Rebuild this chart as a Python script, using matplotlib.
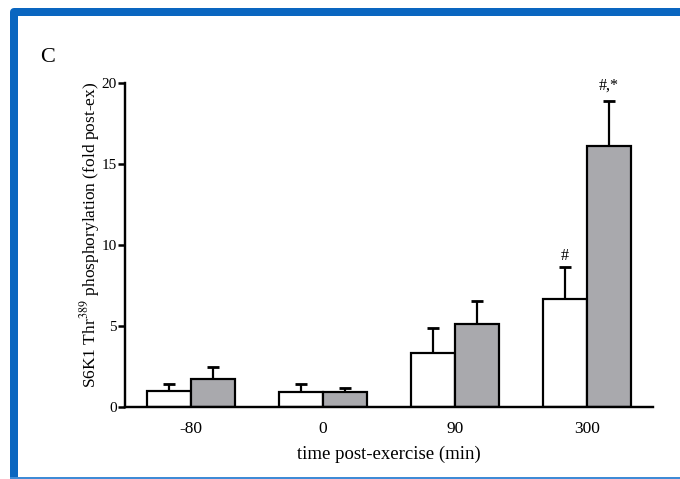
import matplotlib
matplotlib.use("Agg")
import matplotlib.pyplot as plt
from matplotlib.patches import Rectangle
import numpy as np

# Time points after exercise (min)
time_labels = ["-80", "0", "90", "300"]

# S6K1 Thr389 phosphorylation, fold of post-exercise value
white_means = [1.0, 0.95, 3.35, 6.65]
white_sem = [0.4, 0.45, 1.55, 2.0]
grey_means = [1.75, 0.95, 5.15, 16.1]
grey_sem = [0.7, 0.25, 1.4, 2.8]

# Significance marks above each bar
white_marks = ["", "", "", "#"]
grey_marks = ["", "", "", "#,*"]

plt.rcParams["font.family"] = ["Liberation Serif", "DejaVu Serif"]
plt.rcParams["mathtext.fontset"] = "stix"

W, H, DPI = 680, 479, 100
fig = plt.figure(figsize=(W / DPI, H / DPI), dpi=DPI)

# blue panel frame (open at the right edge of the figure)
frame = Rectangle((14 / W, -2 / H), 700 / W, (H - 11.5 + 2) / H,
                  transform=fig.transFigure, fill=False,
                  edgecolor="#0a66c0", linewidth=8 * 72 / DPI,
                  joinstyle="round", zorder=0)
fig.patches.append(frame)
bottom_edge = Rectangle((10 / W, 0), 1.0, 2.5 / H, transform=fig.transFigure,
                        facecolor="#3f8bd6", edgecolor="none", zorder=0)
fig.patches.append(bottom_edge)

ax = fig.add_axes([125 / W, 1 - 407 / H, (653 - 125) / W, (407 - 83) / H])

x = np.arange(len(time_labels))
bw = 0.336
edge_lw = 2.2 * 72 / DPI

ax.bar(x - bw / 2, white_means, bw, color="white", edgecolor="black",
       linewidth=edge_lw, zorder=2)
ax.bar(x + bw / 2, grey_means, bw, color="#a9a9ad", edgecolor="black",
       linewidth=edge_lw, zorder=2)

err_kw = dict(fmt="none", ecolor="black", elinewidth=2.2 * 72 / DPI,
              capsize=6 * 72 / DPI, capthick=2.8 * 72 / DPI, zorder=1)
ax.errorbar(x - bw / 2, white_means, yerr=[np.zeros(4), white_sem], **err_kw)
ax.errorbar(x + bw / 2, grey_means, yerr=[np.zeros(4), grey_sem], **err_kw)

for xi, m, s, t in zip(x - bw / 2, white_means, white_sem, white_marks):
    if t:
        ax.annotate(t, (xi, m + s), xytext=(0, 2), textcoords="offset points",
                    ha="center", va="bottom", fontsize=11.5)
for xi, m, s, t in zip(x + bw / 2, grey_means, grey_sem, grey_marks):
    if t:
        ax.annotate(t, (xi, m + s), xytext=(0, 5), textcoords="offset points",
                    ha="center", va="bottom", fontsize=11.5)

ax.set_xlim(-0.5, 3.5)
ax.set_ylim(0, 20)
ax.set_yticks([0, 5, 10, 15, 20])
ax.set_xticks(x)
ax.set_xticklabels(time_labels, fontsize=12.5)
ax.tick_params(axis="y", labelsize=11, length=5, width=1.8, direction="out", pad=1)
ax.tick_params(axis="x", length=0, pad=10)

for side in ("top", "right"):
    ax.spines[side].set_visible(False)
for side in ("left", "bottom"):
    ax.spines[side].set_linewidth(2.4 * 72 / DPI)

ax.set_xlabel("time post-exercise (min)", fontsize=13.5, labelpad=6)
ax.set_ylabel(r"S6K1 Thr$^{389}$ phosphorylation (fold post-ex)", fontsize=12.5)
ax.yaxis.set_label_coords(-23 / 528, 0.5 + 10 / 324)

fig.text(40 / W, 1 - 57 / H, "C", fontsize=16, ha="left", va="center")

fig.savefig("out.png", dpi=DPI)
